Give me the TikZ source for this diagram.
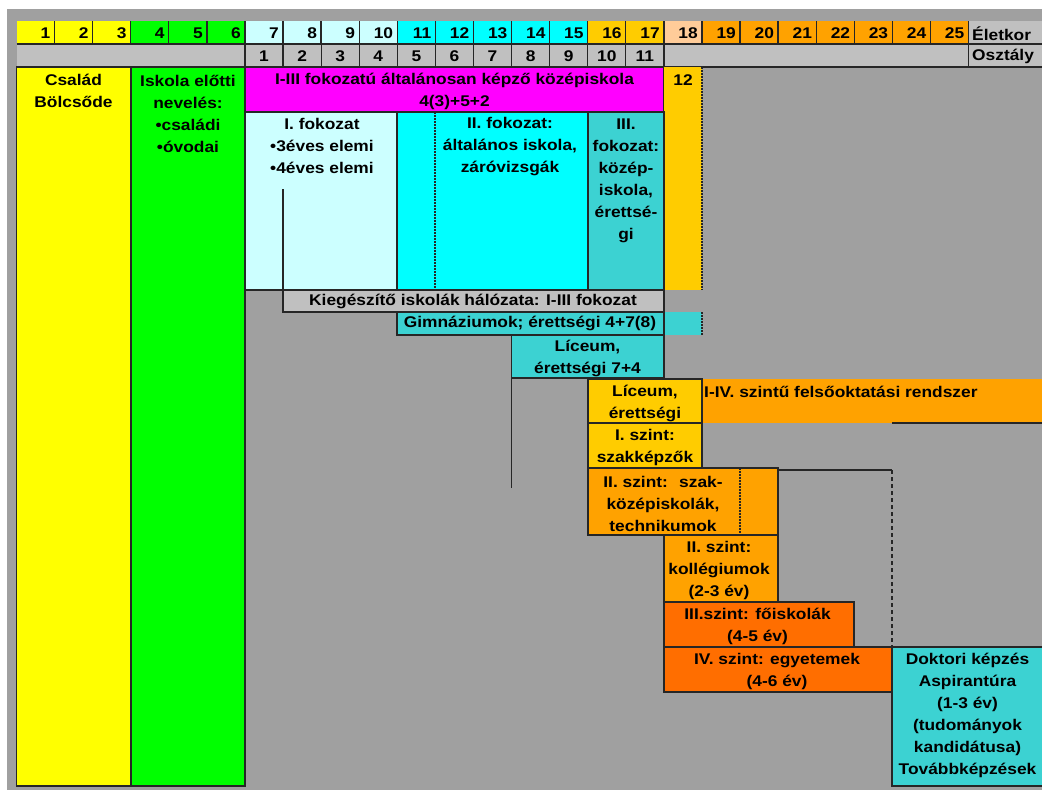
\documentclass[tikz,border=0pt]{standalone}
\usepackage{fontspec}
\newfontfamily\chartfont{Liberation Sans}[FakeStretch=1.12]

\begin{document}
\begin{tikzpicture}[x=1pt,y=1pt,yscale=-1,xscale=1,
  font=\chartfont\bfseries\fontsize{15.5}{22}\selectfont,
  box/.style={draw=black!85, line width=1.3pt},
  grid/.style={black!85, line width=1.3pt},
  dots/.style={black!85, line width=1.3pt, dash pattern=on 1.5pt off 1.5pt},
  lbl/.style={align=center, inner sep=0pt},
  num/.style={inner sep=0pt}]

\definecolor{bggray}{RGB}{160,160,160}
\definecolor{hdgray}{RGB}{192,192,192}
\definecolor{myyellow}{RGB}{255,255,0}
\definecolor{mygreen}{RGB}{0,255,0}
\definecolor{mypale}{RGB}{204,255,255}
\definecolor{mycyan}{RGB}{0,255,255}
\definecolor{myteal}{RGB}{60,210,210}
\definecolor{mygold}{RGB}{255,204,0}
\definecolor{mypeach}{RGB}{255,204,153}
\definecolor{myorange}{RGB}{255,162,0}
\definecolor{mydark}{RGB}{255,110,0}
\definecolor{mymagenta}{RGB}{255,0,255}

\useasboundingbox (0,0) rectangle (1042,790);
\fill[bggray] (7,9) rectangle (1046,790);

% header rows
\fill[myyellow] (16.5,21) rectangle (131,44);
\fill[mygreen] (131,21) rectangle (245,44);
\fill[mypale] (245,21) rectangle (397,44);
\fill[mycyan] (397,21) rectangle (588,44);
\fill[mygold] (588,21) rectangle (664,44);
\fill[mypeach] (664,21) rectangle (702,44);
\fill[myorange] (702,21) rectangle (968.5,44);
\fill[hdgray] (968.5,21) rectangle (1046,44);
\fill[hdgray] (16.5,44) rectangle (1046,67);

\foreach \i in {1,...,25} {
  \pgfmathsetmacro\xr{16.5+\i*38.08}
  \draw[grid] (\xr,21) -- (\xr,44);
  \node[num, anchor=east] (age\i) at (\xr-4,33.5) {\i};
}
\foreach \i in {1,...,11} {
  \pgfmathsetmacro\xl{245+(\i-1)*38.08}
  \draw[grid] (\xl,44) -- (\xl,67);
  \node[num] (grade\i) at (\xl+19.04,56.5) {\i};
}
\draw[grid] (664,44) -- (664,67);
\draw[grid] (968.5,44) -- (968.5,67);
\draw[grid] (16.5,44) -- (1046,44);
\draw[grid] (16.5,67) -- (1046,67);
\node[num, anchor=west] (agelabel) at (972,33.5) {Életkor};
\node[num, anchor=west] (gradelabel) at (972,56.5) {Osztály};

% left columns
\draw[box, fill=myyellow] (16.5,67) rectangle (131,786);
\draw[box, fill=mygreen] (131,67) rectangle (245,786);
\node[lbl] (family) at (73.5,91) {Család\\Bölcsőde};
\node[lbl] (preschool) at (188,113.5) {Iskola előtti\\nevelés:\\•családi\\•óvodai};

% I-III fokozat
\draw[box, fill=mymagenta] (245,67) rectangle (664,112);
\node[lbl] (general) at (454.5,91) {I-III fokozatú általánosan képző középiskola\\4(3)+5+2};
\fill[mygold] (664,67) rectangle (702,290);
\draw[dots] (702,67) -- (702,290);
\node[num] (twelve) at (683,80) {12};

\draw[box, fill=mypale] (245,112) rectangle (397,290);
\draw[box, fill=mycyan] (397,112) rectangle (588,290);
\draw[box, fill=myteal] (588,112) rectangle (664,290);
\draw[dots] (435,112) -- (435,290);
\draw[grid] (283,189) -- (283,290);
\node[lbl] (grade1) at (322,146) {I. fokozat\\•3éves elemi\\•4éves elemi};
\node[lbl] (grade2) at (510,146.5) {II. fokozat:\\általános iskola,\\záróvizsgák};
\node[lbl] (grade3) at (626,180.5) {III.\\fokozat:\\közép-\\iskola,\\érettsé-\\gi};

% kiegeszito, gimnazium, liceum
\draw[box, fill=hdgray] (283,290) rectangle (664,312);
\node[lbl] (extra) at (473,301.5) {Kiegészítő iskolák hálózata: I-III fokozat};
\fill[myteal] (664,312) rectangle (702,335);
\draw[dots] (702,312) -- (702,335);
\draw[box, fill=myteal] (397,312) rectangle (664,335);
\node[lbl] (gymn) at (530,323.5) {Gimnáziumok; érettségi 4+7(8)};
\draw[box, fill=myteal] (511.5,335) rectangle (664,378);
\node[lbl] (lyc) at (587.5,358) {Líceum,\\érettségi 7+4};
\draw[grid] (511.5,378) -- (511.5,488);

% felsooktatas
\fill[myorange] (702,379) rectangle (1046,423);
\draw[grid] (892,423) -- (1046,423);
\node[num, anchor=west] (higher) at (704,392) {I-IV. szintű felsőoktatási rendszer};
\draw[box, fill=mygold] (588,379) rectangle (702,423);
\node[lbl] (lyc2) at (645,403) {Líceum,\\érettségi};
\draw[box, fill=mygold] (588,423) rectangle (702,468);
\node[lbl] (level1) at (645,447.5) {I. szint:\\szakképzők};
\draw[box, fill=myorange] (588,468) rectangle (778,535);
\draw[dots] (740,468) -- (740,535);
\node[lbl] (level2a) at (663,504) {II. szint:~ szak-\\középiskolák,\\technikumok};
\draw[grid] (778,470) -- (892,470);
\draw[black!85, line width=1.3pt, dash pattern=on 4pt off 3pt] (892,470) -- (892,647);
\draw[box, fill=myorange] (664,535) rectangle (778,602);
\node[lbl] (level2b) at (719,570.5) {II. szint:\\kollégiumok\\(2-3 év)};
\draw[box, fill=mydark] (664,602) rectangle (854,647);
\node[lbl] (level3) at (757.5,626) {III.szint: főiskolák\\(4-5 év)};
\draw[box, fill=mydark] (664,647) rectangle (892,692);
\node[lbl] (level4) at (777,671) {IV. szint: egyetemek\\(4-6 év)};
\draw[box, fill=myteal] (892,647) rectangle (1046,786);
\node[lbl] (doctor) at (967.5,715.5) {Doktori képzés\\Aspirantúra\\(1-3 év)\\(tudományok\\kandidátusa)\\Továbbképzések};

\end{tikzpicture}
\end{document}
